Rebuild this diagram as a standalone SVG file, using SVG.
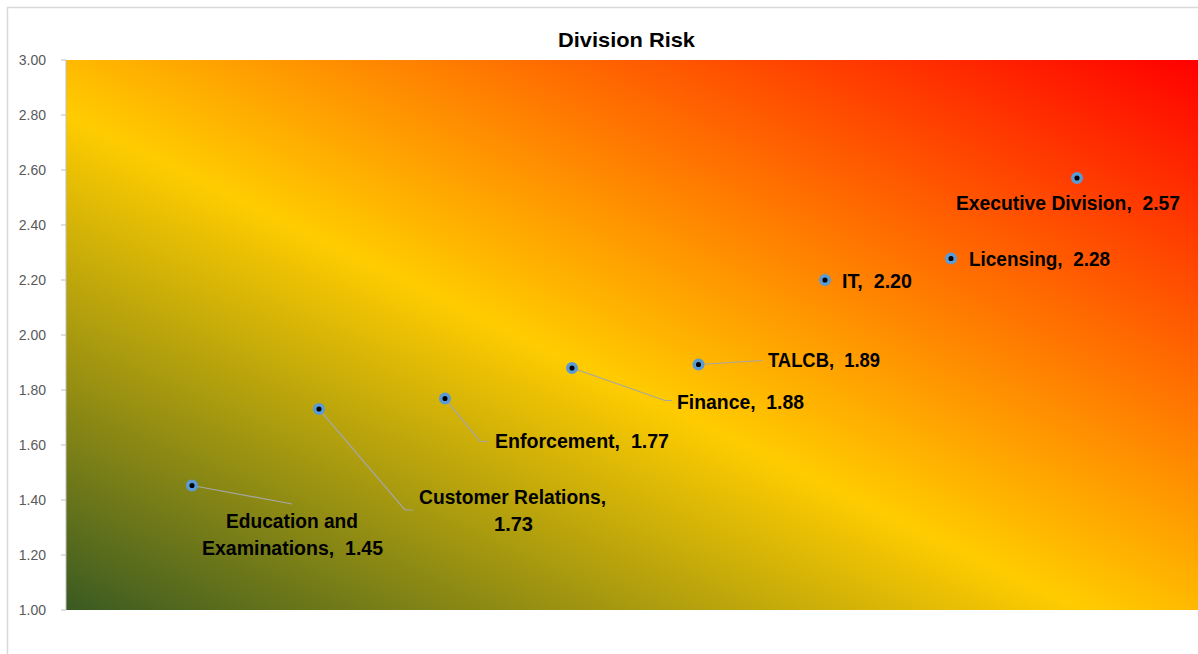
<svg xmlns="http://www.w3.org/2000/svg" width="1198" height="654" viewBox="0 0 1198 654">
<defs>
<linearGradient id="bg" x1="0" y1="1" x2="1" y2="0">
<stop offset="0" stop-color="#3A5A22"/>
<stop offset="0.45" stop-color="#FFCC00"/>
<stop offset="1" stop-color="#FF0000"/>
</linearGradient>
</defs>
<style>
.ax{font-family:"Liberation Sans",Arial,sans-serif;font-size:14px;fill:#595959;text-anchor:end}
.lb{font-family:"Liberation Sans",Arial,sans-serif;font-size:19.5px;font-weight:bold;fill:#000;white-space:pre}
.ld{stroke:#A6A6A6;stroke-width:1.2;fill:none}
.mk{fill:#000;stroke:#5B9BD5;stroke-width:3.5}
.tk{stroke:#BFBFBF;stroke-width:1}
</style>
<rect x="0" y="0" width="1198" height="654" fill="#fff"/>
<rect x="7.5" y="7.5" width="1200" height="660" fill="#fff" stroke="#D9D9D9" stroke-width="1.5"/>
<text x="626.5" y="47" font-family="Liberation Sans,Arial,sans-serif" font-size="20.5" font-weight="bold" text-anchor="middle" textLength="137" lengthAdjust="spacingAndGlyphs">Division Risk</text>
<g id="plot">
<rect x="66" y="60" width="1132" height="550" fill="url(#bg)"/>
</g>
<g id="axis">
<line class="tk" x1="66" y1="60" x2="66" y2="610"/>
<line class="tk" x1="61" y1="60" x2="66" y2="60"/>
<line class="tk" x1="61" y1="115" x2="66" y2="115"/>
<line class="tk" x1="61" y1="170" x2="66" y2="170"/>
<line class="tk" x1="61" y1="225" x2="66" y2="225"/>
<line class="tk" x1="61" y1="280" x2="66" y2="280"/>
<line class="tk" x1="61" y1="335" x2="66" y2="335"/>
<line class="tk" x1="61" y1="390" x2="66" y2="390"/>
<line class="tk" x1="61" y1="445" x2="66" y2="445"/>
<line class="tk" x1="61" y1="500" x2="66" y2="500"/>
<line class="tk" x1="61" y1="555" x2="66" y2="555"/>
<line class="tk" x1="61" y1="610" x2="66" y2="610"/>
<text class="ax" x="46" y="65">3.00</text>
<text class="ax" x="46" y="120">2.80</text>
<text class="ax" x="46" y="175">2.60</text>
<text class="ax" x="46" y="230">2.40</text>
<text class="ax" x="46" y="285">2.20</text>
<text class="ax" x="46" y="340">2.00</text>
<text class="ax" x="46" y="395">1.80</text>
<text class="ax" x="46" y="450">1.60</text>
<text class="ax" x="46" y="505">1.40</text>
<text class="ax" x="46" y="560">1.20</text>
<text class="ax" x="46" y="615">1.00</text>
</g>
<g id="connectors">
<polyline class="ld" points="192,485.5 292,504"/>
<polyline class="ld" points="319,409 405,510 413,510"/>
<polyline class="ld" points="445,398.5 480,441.5 488,441.5"/>
<polyline class="ld" points="572,368 665,400.5 672,400.5"/>
<polyline class="ld" points="698.5,364.5 762,360.5"/>
</g>
<g id="education"><circle class="mk" cx="192" cy="485.5" r="4.3"/>
<text class="lb" x="226" y="528" textLength="132" lengthAdjust="spacingAndGlyphs">Education and</text>
<text class="lb" x="202" y="555" textLength="181" lengthAdjust="spacingAndGlyphs">Examinations,  1.45</text></g>
<g id="customer"><circle class="mk" cx="319" cy="409" r="4.3"/>
<text class="lb" x="419" y="504" textLength="187" lengthAdjust="spacingAndGlyphs">Customer Relations,</text>
<text class="lb" x="494" y="531" textLength="39" lengthAdjust="spacingAndGlyphs">1.73</text></g>
<g id="enforcement"><circle class="mk" cx="445" cy="398.5" r="4.3"/>
<text class="lb" x="495" y="448" textLength="174" lengthAdjust="spacingAndGlyphs">Enforcement,  1.77</text></g>
<g id="finance"><circle class="mk" cx="572" cy="368" r="4.3"/>
<text class="lb" x="677" y="409" textLength="127" lengthAdjust="spacingAndGlyphs">Finance,  1.88</text></g>
<g id="talcb"><circle class="mk" cx="698.5" cy="364.5" r="4.3"/>
<text class="lb" x="768" y="367" textLength="112" lengthAdjust="spacingAndGlyphs">TALCB,  1.89</text></g>
<g id="it"><circle class="mk" cx="825" cy="280" r="4.3"/>
<text class="lb" x="842" y="288" textLength="70" lengthAdjust="spacingAndGlyphs">IT,  2.20</text></g>
<g id="licensing"><circle class="mk" cx="951" cy="258.5" r="4.3"/>
<text class="lb" x="969" y="266" textLength="141" lengthAdjust="spacingAndGlyphs">Licensing,  2.28</text></g>
<g id="executive"><circle class="mk" cx="1077" cy="178" r="4.3"/>
<text class="lb" x="956" y="210" textLength="224" lengthAdjust="spacingAndGlyphs">Executive Division,  2.57</text></g>
</svg>
